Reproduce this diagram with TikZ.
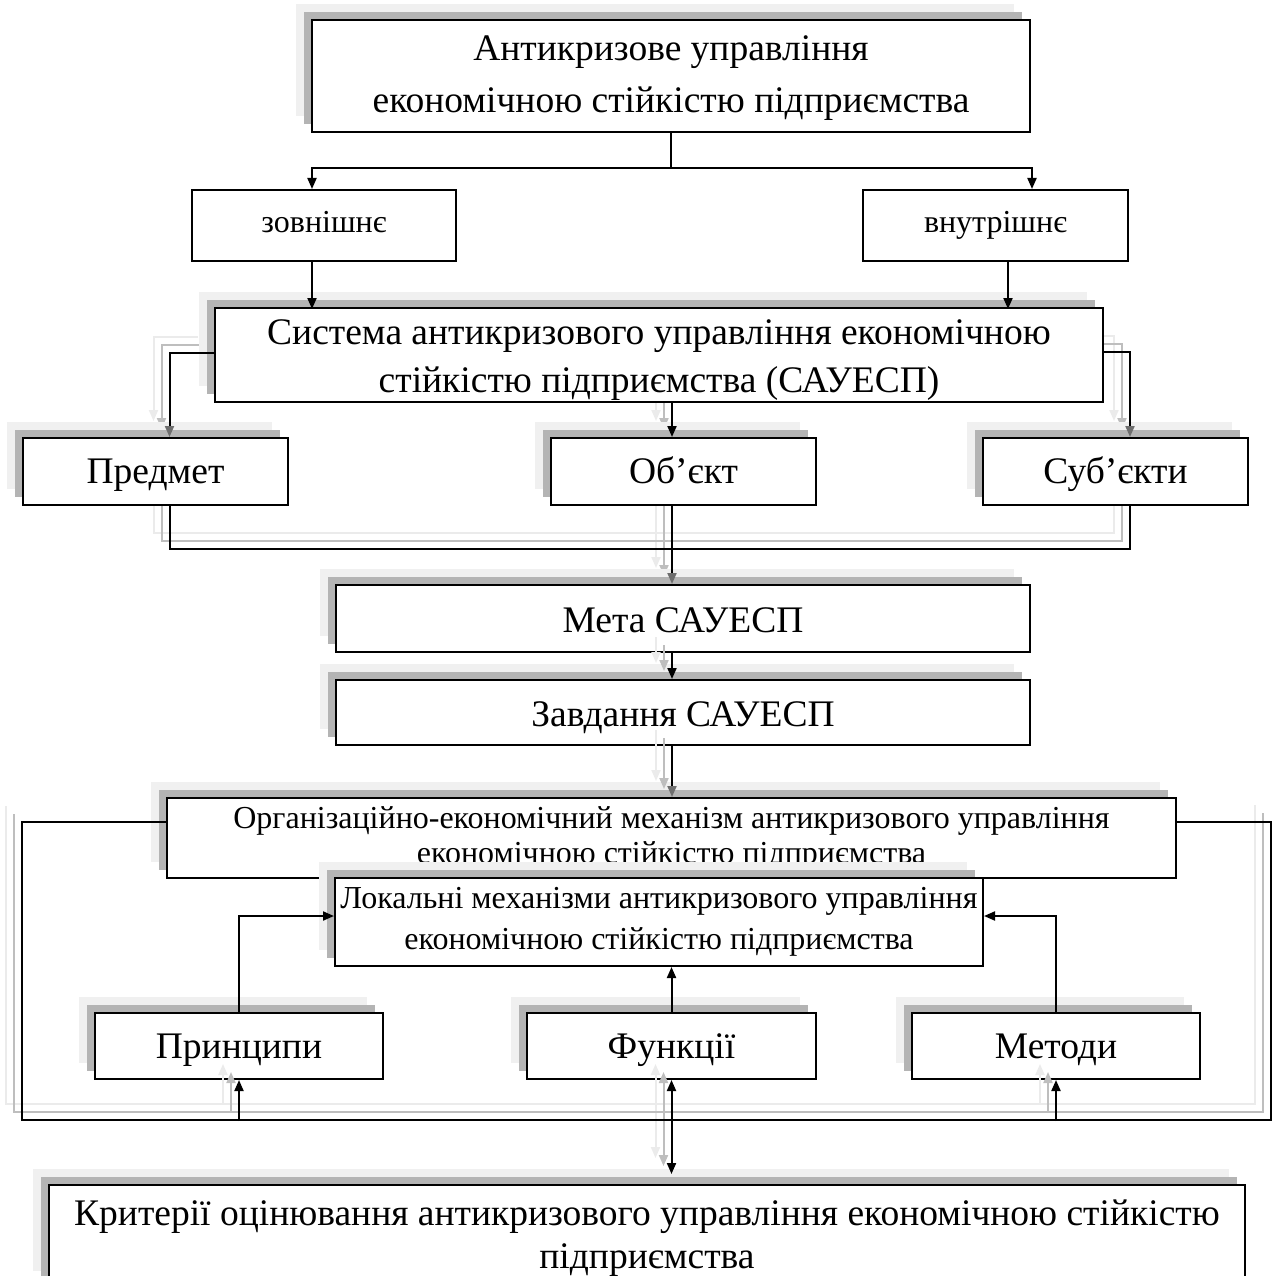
\documentclass[tikz,border=0pt]{standalone}
\usepackage{fontspec}
\setmainfont{Liberation Serif}
\usetikzlibrary{arrows.meta,shadows}
\definecolor{shd}{HTML}{B4B4B4}
\definecolor{shl}{HTML}{F0F0F0}
\definecolor{lnd}{HTML}{BEBEBE}
\definecolor{lnl}{HTML}{EBEBEB}
\definecolor{hd}{HTML}{6E6E6E}
\pgfdeclarelayer{bg}
\pgfsetlayers{bg,main}
\newcommand\fbig{\fontsize{37.5}{48}\selectfont}
\newcommand\fsm{\fontsize{32}{42}\selectfont}
\newcommand\TS[1]{\rule{0pt}{#1pt}}
\newcommand\BS[1]{\rule[-#1pt]{0pt}{#1pt}}
\tikzset{
  bl/.code={\pgfmathsetmacro\bxH{30+#1}\pgfmathsetmacro\bxD{30-#1}},
  mline/.code={\def\bxH{0}\def\bxD{0}},
  box/.style={draw=black,line width=2pt,fill=white,align=center,inner sep=0pt,font=\fbig,bl=13.5,
    execute at begin node={\rule{0pt}{\bxH pt}},
    execute at end node={\rule[-\bxD pt]{0pt}{\bxD pt}}},
  plainbox/.style={box,font=\fsm,bl=7},
  sbox/.style={box,
    general shadow={draw=none,fill=shl,shadow xshift=-16pt,shadow yshift=16pt},
    general shadow={draw=none,fill=shd,shadow xshift=-8pt,shadow yshift=8pt}},
  arr/.style={line width=2pt,-{Triangle[length=11pt,width=9pt]}},
  garr/.style={line width=2pt,-{Triangle[length=11pt,width=9pt,color=hd]}},
  darr/.style={line width=2pt,{Triangle[length=11pt,width=9pt]}-{Triangle[length=11pt,width=9pt]}},
  ln/.style={line width=2pt},
  sh1/.style={transform canvas={shift={(-16pt,16pt)}}},
  sh2/.style={transform canvas={shift={(-8pt,8pt)}}},
}
\newcommand\upperpaths[2]{%
  \draw[#2,#1] ([yshift=2pt]S.west) -| ([xshift=14pt]Pr.north);
  \draw[arr,#1] ([xshift=13pt]S.south) -- ([xshift=-11.5pt]Ob.north);
  \draw[#2,#1] ([yshift=3pt]S.east) -| ([xshift=14.5pt]Su.north);
  \draw[ln,#1] ([xshift=14pt]Pr.south) -- ++(0,43) -| ([xshift=14.5pt]Su.south);
  \draw[#2,#1] ([xshift=-11.5pt]Ob.south) -- ([xshift=-11pt]Me.north);
}
\newcommand\lowerpaths[2]{%
  \draw[arr,#1] ([xshift=-11pt]Me.south) -- ([xshift=-11pt]Za.north);
  \draw[#2,#1] ([xshift=-11pt]Za.south) -- ([xshift=0.5pt]O.north);
  \draw[arr,#1] (P.south) ++(0,41) -- (P.south);
  \draw[arr,#1] (M.south) ++(0,41) -- (M.south);
  \draw[darr,#1] (F.south) -- ++(0,94);
}
\begin{document}
\begin{tikzpicture}[x=1pt,y=-1pt]
\useasboundingbox (0,0) rectangle (1280,1276);
\clip (0,0) rectangle (1280,1276);
% boxes
\node[sbox,mline,font=\fontsize{37.5}{52}\selectfont,minimum width=718pt,minimum height=112pt] (A) at (671,76) {\TS{32}Антикризове управління\\економічною стійкістю підприємства\BS{10}};
\node[plainbox,minimum width=264pt,minimum height=71pt] (Z) at (324,225.5) {зовнішнє};
\node[plainbox,minimum width=265pt,minimum height=71pt] (V) at (995.5,225.5) {внутрішнє};
\node[sbox,mline,minimum width=888pt,minimum height=94pt] (S) at (659,355) {\TS{36.5}Система антикризового управління економічною\\стійкістю підприємства (САУЕСП)\BS{10}};
\node[sbox,bl=11.5,minimum width=265pt,minimum height=67pt] (Pr) at (155.5,471.5) {Предмет};
\node[sbox,bl=11.5,minimum width=265pt,minimum height=67pt] (Ob) at (683.5,471.5) {Об’єкт};
\node[sbox,bl=11.5,minimum width=265pt,minimum height=67pt] (Su) at (1115.5,471.5) {Суб’єкти};
\node[sbox,minimum width=694pt,minimum height=67pt] (Me) at (683,618.5) {Мета САУЕСП};
\node[sbox,minimum width=694pt,minimum height=65pt] (Za) at (683,712.5) {Завдання САУЕСП};
\node[sbox,mline,font=\fontsize{32}{35}\selectfont,minimum width=1009pt,minimum height=80pt] (O) at (671.5,838) {\TS{25}Організаційно-економічний механізм антикризового управління\\економічною стійкістю підприємства\BS{10}};
\node[sbox,mline,font=\fontsize{32}{41}\selectfont,minimum width=648pt,minimum height=88pt] (L) at (659,922) {\TS{24.4}Локальні механізми антикризового управління\\економічною стійкістю підприємства\BS{10}};
\node[sbox,bl=12.5,minimum width=288pt,minimum height=66pt] (P) at (239,1046) {Принципи};
\node[sbox,bl=12.5,minimum width=289pt,minimum height=66pt] (F) at (671.5,1046) {Функції};
\node[sbox,bl=12.5,minimum width=288pt,minimum height=66pt] (M) at (1056,1046) {Методи};
\node[sbox,mline,font=\fontsize{37.5}{43}\selectfont,minimum width=1196pt,minimum height=102pt] (K) at (647,1236) {\TS{31.8}Критерії оцінювання антикризового управління економічною стійкістю\\підприємства\BS{10}};
% shadows of upper connectors (under boxes)
\begin{pgfonlayer}{bg}
\begin{scope}[sh1]\upperpaths{draw=lnl}{arr}\end{scope}
\begin{scope}[sh2]\upperpaths{draw=lnd}{arr}\end{scope}
\end{pgfonlayer}
% shadows of lower connectors
\begin{scope}[sh1]
  \lowerpaths{draw=lnl}{arr}
  \draw[ln,draw=lnl] ([yshift=16pt]O.west) ++(-144,0) -- ++(0,298) -- ++(1249,0) -- ++(0,-299);
\end{scope}
\begin{scope}[sh2]
  \lowerpaths{draw=lnd}{arr}
  \draw[ln,draw=lnd] ([yshift=16pt]O.west) ++(-144,0) -- ++(0,298) -- ++(1249,0) -- ++(0,-299);
\end{scope}
% connectors
\draw[arr] (A.south) -- ++(0,35) -| ([xshift=-12pt]Z.north);
\draw[arr] (A.south) -- ++(0,35) -| ([xshift=36.5pt]V.north);
\draw[arr] ([xshift=-12pt]Z.south) -- ++(0,47);
\draw[arr] ([xshift=12.5pt]V.south) -- ++(0,47);
\upperpaths{draw=black}{garr}
\lowerpaths{draw=black}{garr}
\draw[ln] ([yshift=16pt]O.west) -- ++(-144,0) -- ++(0,298) -- ++(1249,0) |- ([yshift=16pt]O.east);
\draw[arr] (P.north) |- ([yshift=6pt]L.west);
\draw[arr] (F.north) -- (F.north |- L.south);
\draw[arr] (M.north) |- ([yshift=6pt]L.east);
\end{tikzpicture}
\end{document}
